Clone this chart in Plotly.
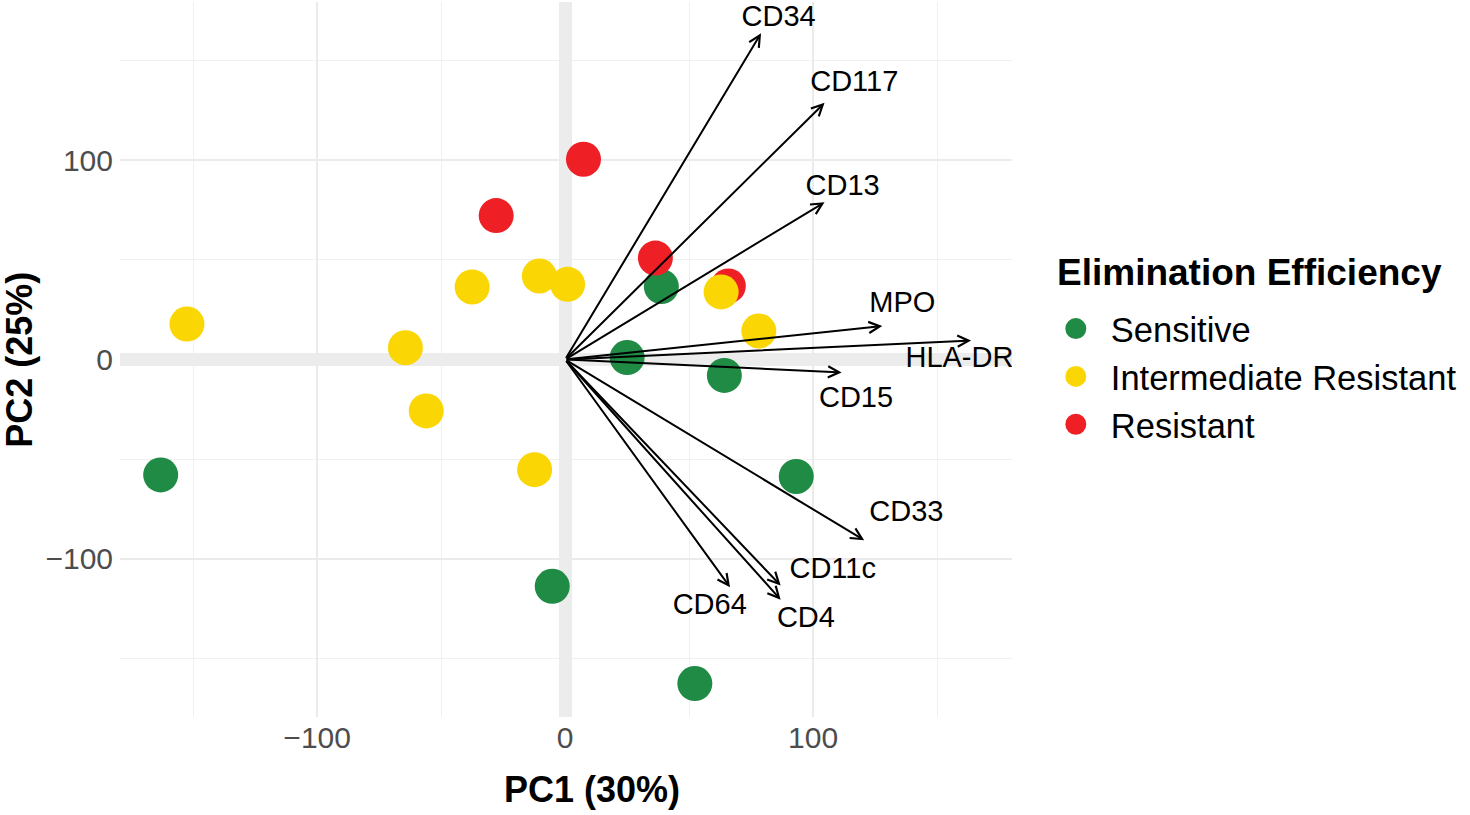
import plotly.graph_objects as go

# --- data -------------------------------------------------------------
groups = ["Sensitive", "Intermediate Resistant", "Resistant"]
group_colors = ["#1F8B45", "#FAD605", "#EE2025"]

sens_pc1 = [-163.1, -5.2, 38.8, 25.0, 64.2, 93.2, 52.3]
sens_pc2 = [-57.9, -113.8, 36.6, 1.0, -8.0, -58.7, -162.6]

inter_pc1 = [-152.5, -64.4, -56.0, -37.5, -10.4, 1.0, -12.3, 62.9, 78.1]
inter_pc2 = [17.8, 5.9, -25.8, 36.4, 41.9, 37.7, -55.3, 33.9, 14.3]

res_pc1 = [7.4, -27.8, 36.4, 65.8]
res_pc2 = [100.5, 72.2, 50.9, 36.9]

markers = ["CD34", "CD117", "CD13", "MPO", "HLA-DR", "CD15", "CD33", "CD11c", "CD4", "CD64"]
load_pc1 = [79.0, 104.6, 104.6, 127.9, 163.7, 111.5, 120.6, 86.9, 86.9, 66.5]
load_pc2 = [163.7, 128.8, 78.9, 16.8, 9.5, -6.5, -90.7, -113.4, -120.5, -114.3]
label_pc1 = [86.1, 116.6, 111.9, 136.0, 159.0, 117.3, 137.6, 107.9, 97.1, 58.3]
label_pc2 = [171.2, 138.3, 86.4, 27.3, -0.2, -20.3, -77.2, -106.0, -130.5, -123.9]

x_title = "PC1 (30%)"
y_title = "PC2 (25%)"
legend_title = "Elimination Efficiency"

FONT = "Liberation Sans, Arial, Helvetica, sans-serif"

fig = go.Figure()

series = {
    "Sensitive": (sens_pc1, sens_pc2),
    "Intermediate Resistant": (inter_pc1, inter_pc2),
    "Resistant": (res_pc1, res_pc2),
}
color_of = dict(zip(groups, group_colors))

# legend-only entries (bigger legend symbols)
for g in groups:
    fig.add_trace(go.Scatter(
        x=[None], y=[None], mode="markers", name=g, legendgroup=g,
        marker=dict(size=16, color=color_of[g], line=dict(width=5, color=color_of[g])),
        showlegend=True,
    ))

# data points: draw order green, red, yellow
for g in ["Sensitive", "Resistant", "Intermediate Resistant"]:
    xs, ys = series[g]
    fig.add_trace(go.Scatter(
        x=xs, y=ys, mode="markers", name=g, legendgroup=g, showlegend=False,
        marker=dict(size=35, color=color_of[g], line=dict(width=0)),
        hovertemplate="%{x}, %{y}<extra>" + g + "</extra>",
    ))

# loading labels
fig.add_trace(go.Scatter(
    x=label_pc1, y=label_pc2, mode="text", text=markers, showlegend=False,
    textposition="middle center",
    textfont=dict(family=FONT, size=29, color="black"),
    hoverinfo="skip",
))

# loading arrows
for m, lx, ly in zip(markers, load_pc1, load_pc2):
    fig.add_annotation(
        x=lx, y=ly, ax=0, ay=0, xref="x", yref="y", axref="x", ayref="y",
        text="", showarrow=True, arrowhead=5, arrowsize=1.1, arrowwidth=2,
        arrowcolor="black", standoff=0, startstandoff=0,
    )

# axis titles
fig.add_annotation(
    x=0.529, y=-0.102, xref="paper", yref="paper", text="<b>" + x_title + "</b>",
    showarrow=False, xanchor="center", yanchor="middle",
    font=dict(family=FONT, size=36, color="black"),
)
fig.add_annotation(
    x=-0.113, y=0.5, xref="paper", yref="paper", text="<b>" + y_title + "</b>",
    showarrow=False, xanchor="center", yanchor="middle", textangle=-90,
    font=dict(family=FONT, size=36, color="black"),
)
# legend title
fig.add_annotation(
    x=1.0478, y=(717 - 273) / 715, xref="paper", yref="paper",
    text="<b>" + legend_title + "</b>", showarrow=False,
    xanchor="left", yanchor="middle",
    font=dict(family=FONT, size=37, color="black"),
)

axis_common = dict(
    showline=False, ticks="", zeroline=True, zerolinecolor="#EBECEB", zerolinewidth=13,
    showgrid=True, gridcolor="#EBEBEB", gridwidth=2,
    tickmode="array", tickvals=[-100, 0, 100], ticktext=["\u2212100", "0", "100"],
    tickfont=dict(family=FONT, size=30, color="#4D4D4D"),
    minor=dict(tickmode="array", tickvals=[-150, -50, 50, 150], showgrid=True,
               gridcolor="#F0F0F0", gridwidth=1, ticks=""),
)

fig.update_layout(
    width=1470, height=815,
    margin=dict(l=120, r=458, t=2, b=98),
    paper_bgcolor="white", plot_bgcolor="white",
    font=dict(family=FONT),
    xaxis=dict(range=[-179.5, 180.2], ticklabelstandoff=0, **axis_common),
    yaxis=dict(range=[-179.4, 179.4], ticklabelstandoff=6, **axis_common),
    legend=dict(
        x=1.0323, xanchor="left", y=0.476, yanchor="middle",
        font=dict(family=FONT, size=34.5, color="black"),
        itemsizing="trace", tracegroupgap=0, itemwidth=60,
        bgcolor="rgba(0,0,0,0)",
    ),
    showlegend=True,
)

fig.write_html("out.html", post_script="document.body.style.margin='0';",
               config={"displayModeBar": False})
